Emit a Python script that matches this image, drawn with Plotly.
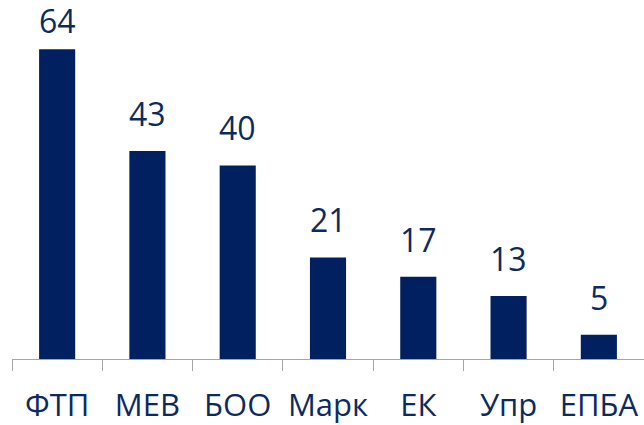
import plotly.graph_objects as go

categories = ["ФТП", "МЕВ", "БОО", "Марк", "ЕК", "Упр", "ЕПБА"]
values = [64, 43, 40, 21, 17, 13, 5]

BAR = "#002060"
TXT = "#0d2a5e"
FONT = "Open Sans"
YMAX = 74.2
PLOT_H = 359

fig = go.Figure(
    go.Bar(x=categories, y=values, marker=dict(color=BAR, line=dict(width=0)),
           hoverinfo="skip")
)

for c, v in zip(categories, values):
    bar_top_px = PLOT_H - v * PLOT_H / YMAX
    fig.add_annotation(
        x=c, y=v, text=str(v), showarrow=False, yanchor="bottom",
        yshift=min(14, bar_top_px - 44), font=dict(family=FONT, size=32, color=TXT),
    )

fig.update_layout(
    width=644, height=425,
    margin=dict(l=12, r=0, t=0, b=425 - PLOT_H, autoexpand=False),
    paper_bgcolor="white", plot_bgcolor="white",
    bargap=0.6, showlegend=False,
    font=dict(family=FONT, size=31, color=TXT),
)
fig.update_xaxes(
    showline=True, linecolor="#a6a6a6", linewidth=1, automargin=False,
    ticks="outside", tickson="boundaries", ticklen=11, tickcolor="#a6a6a6",
    tickfont=dict(family=FONT, size=31, color=TXT), tickangle=0,
    ticklabelstandoff=19,
)
fig.update_yaxes(range=[0, YMAX], visible=False, showgrid=False, automargin=False)

fig.write_html("out.html", config={"displayModeBar": False},
               post_script="document.body.style.margin='0';")
